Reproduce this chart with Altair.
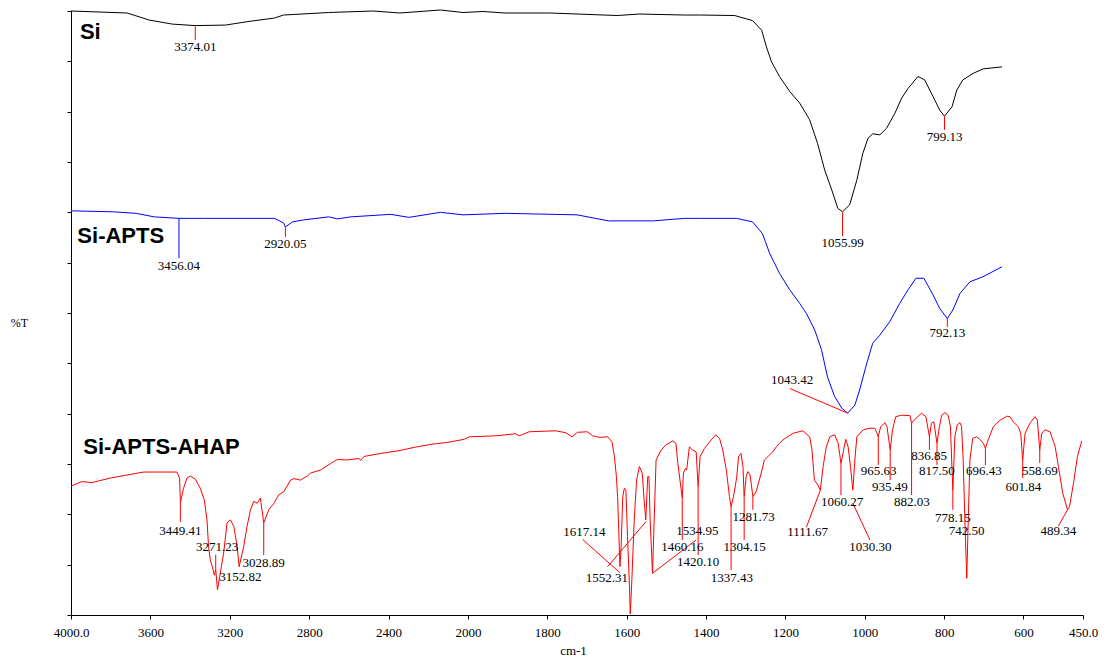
import altair as alt
import pandas as pd

# ---------------- spectra (wavenumber cm-1, %T in arbitrary offset units) ----------------
si_wn = [4000, 3717, 3606, 3490, 3374, 3222, 3109, 2975, 2929, 2702, 2477, 2344, 2139, 2025, 1962,
         1907, 1793, 1624, 1568, 1455, 1417, 1328, 1283, 1260, 1248, 1235, 1215, 1189, 1164, 1139,
         1119, 1101, 1083, 1068, 1056, 1038, 1020, 1005, 992, 980, 962, 945, 924, 907, 891,
         866, 849, 828, 811, 799, 780, 768, 753, 727, 702, 654]
si_t = [120.0, 119.6, 118.2, 117.4, 117.1, 117.2, 117.9, 118.6, 119.2, 119.7, 120.0, 119.6, 120.2, 119.7, 119.9,
        119.6, 119.6, 119.1, 119.4, 119.2, 119.2, 119.1, 118.1, 116.2, 112.9, 109.9, 107.0, 104.0, 101.7, 98.4,
        93.7, 88.4, 84.4, 80.8, 80.1, 81.5, 86.4, 91.7, 94.7, 95.6, 95.4, 96.7, 99.7, 102.7, 104.6,
        107.0, 106.3, 103.0, 100.3, 99.1, 101.0, 104.3, 106.3, 107.6, 108.5, 108.9]

apts_wn = [4000, 3785, 3672, 3581, 3456, 3333, 2975, 2929, 2920, 2884, 2828, 2702, 2657, 2591, 2389,
           2298, 2139, 2025, 1907, 1725, 1646, 1533, 1455, 1417, 1323, 1283, 1258, 1240, 1215, 1189,
           1164, 1147, 1126, 1109, 1094, 1076, 1058, 1043, 1025, 1013, 995, 980, 962, 937, 912,
           891, 871, 851, 828, 811, 792, 778, 760, 735, 702, 654]
apts_t = [80.3, 80.1, 79.8, 79.1, 78.8, 78.8, 78.8, 77.9, 77.1, 78.1, 78.5, 79.1, 78.7, 79.1, 79.6,
          79.0, 80.0, 79.5, 79.8, 79.5, 78.3, 78.3, 78.8, 78.8, 78.8, 78.1, 75.8, 71.9, 67.9, 64.6,
          61.9, 59.9, 56.6, 52.7, 47.3, 43.4, 41.1, 40.1, 41.7, 44.7, 50.0, 54.0, 55.6, 58.3, 61.9,
          64.6, 66.9, 66.9, 63.6, 60.9, 58.9, 60.6, 63.9, 66.2, 67.2, 69.2]

ahap_wn = [4000, 3946, 3895, 3803, 3719, 3635, 3551, 3466, 3453, 3449, 3433, 3416, 3399, 3374, 3349,
           3328, 3315, 3307, 3298, 3288, 3278, 3271, 3262, 3248, 3231, 3214, 3197, 3180, 3163, 3153,
           3130, 3113, 3096, 3079, 3062, 3046, 3029, 3004, 2978, 2953, 2928, 2894, 2877, 2844, 2810,
           2793, 2743, 2692, 2658, 2608, 2549, 2541, 2524, 2440, 2355, 2271, 2187, 2103, 2019, 1997,
           1930, 1880, 1871, 1846, 1779, 1753, 1738, 1724, 1699, 1686, 1669, 1648, 1637, 1631, 1626,
           1623, 1617, 1614, 1610, 1606, 1602, 1598, 1593, 1591, 1587, 1581, 1575, 1568, 1561, 1556,
           1552, 1547, 1544, 1541, 1535, 1526, 1513, 1501, 1484, 1476, 1471, 1460, 1457, 1452, 1449,
           1442, 1434, 1425, 1420, 1415, 1404, 1391, 1376, 1366, 1358, 1349, 1341, 1337, 1331, 1323,
           1318, 1312, 1307, 1304, 1299, 1295, 1289, 1282, 1274, 1261, 1253, 1240, 1232, 1223, 1215,
           1206, 1181, 1156, 1139, 1133, 1127, 1118, 1112, 1105, 1097, 1088, 1076, 1067, 1060, 1055,
           1048, 1042, 1036, 1030, 1025, 1020, 1004, 987, 975, 969, 966, 960, 949, 944, 936,
           930, 922, 907, 886, 882, 876, 857, 846, 837, 832, 826, 818, 812, 806, 798,
           790, 784, 781, 778, 773, 767, 760, 756, 752, 748, 743, 739, 735, 728, 718,
           710, 701, 696, 689, 676, 659, 642, 634, 626, 613, 607, 602, 596, 583, 571,
           565, 559, 554, 546, 533, 520, 512, 501, 489, 484, 474, 464, 453]
ahap_t = [25.6, 26.5, 26.3, 27.2, 27.8, 28.4, 28.4, 28.4, 27.2, 22.3, 25.2, 27.2, 27.6, 27.0, 25.2,
          22.8, 18.9, 13.6, 10.9, 9.6, 7.9, 9.0, 5.0, 8.3, 12.3, 18.3, 18.9, 17.6, 13.6, 9.6,
          13.6, 17.6, 20.9, 22.6, 22.2, 23.2, 18.3, 20.9, 22.2, 23.9, 24.5, 26.8, 27.1, 26.8, 27.6,
          28.2, 28.8, 30.1, 30.9, 30.8, 31.1, 30.7, 31.5, 32.1, 32.6, 33.3, 33.9, 34.3, 34.9, 35.4,
          35.6, 36.0, 35.6, 36.4, 36.6, 36.2, 35.4, 36.3, 36.4, 35.6, 35.3, 35.4, 34.4, 31.5, 27.5,
          23.5, 9.6, 13.6, 23.5, 25.2, 24.8, 15.6, 5.6, 0.2, 7.0, 18.9, 26.8, 29.5, 28.2, 22.8,
          18.9, 27.5, 27.5, 18.9, 8.3, 30.8, 32.8, 33.8, 34.6, 34.1, 30.1, 23.2, 28.2, 29.1, 28.8,
          33.4, 32.8, 32.4, 25.5, 31.5, 33.1, 34.4, 35.8, 35.1, 32.8, 28.8, 23.5, 21.5, 23.5, 27.2,
          31.5, 32.1, 29.5, 23.5, 27.5, 28.5, 27.8, 23.5, 24.5, 28.2, 30.8, 31.8, 32.4, 33.4, 34.1,
          34.8, 36.1, 36.6, 35.4, 32.8, 26.8, 25.8, 24.8, 29.5, 33.4, 35.4, 35.8, 34.1, 30.1, 32.1,
          34.9, 33.4, 29.5, 24.8, 30.8, 35.4, 36.8, 37.1, 37.1, 36.1, 35.4, 37.4, 38.2, 37.4, 32.8,
          36.8, 39.4, 39.7, 39.6, 38.1, 38.7, 40.1, 39.4, 35.4, 38.1, 38.4, 34.1, 37.4, 39.7, 40.2,
          39.7, 37.4, 30.8, 24.8, 35.4, 37.8, 38.2, 37.4, 30.8, 19.5, 7.3, 19.5, 30.8, 35.1, 35.4,
          34.9, 34.1, 33.1, 34.8, 37.4, 38.7, 39.5, 39.4, 38.4, 37.4, 36.1, 30.8, 36.1, 38.2, 39.4,
          38.7, 32.8, 36.1, 36.8, 36.4, 33.4, 29.5, 24.2, 20.9, 21.5, 26.2, 31.5, 34.6]

series_names = ["Si", "Si-APTS", "Si-APTS-AHAP"]
series_colors = ["#000000", "#0000FF", "#FF0000"]

# series name labels
name_wn = [3955, 3968, 3938]
name_t = [115.9, 75.2, 33.4]

# peak labels
lab_text = ["3374.01", "1055.99", "799.13", "3456.04", "2920.05", "792.13", "1043.42", "3449.41",
            "3271.23", "3152.82", "3028.89", "1617.14", "1552.31", "1534.95", "1460.16", "1420.10",
            "1337.43", "1304.15", "1281.73", "1111.67", "1060.27", "1030.30", "965.63", "935.49",
            "882.03", "836.85", "817.50", "778.15", "742.50", "696.43", "601.84", "558.69", "489.34"]
lab_wn = [3374, 1056, 799, 3456, 2920, 792, 1183, 3449, 3264, 3147, 3029, 1707, 1650, 1422, 1460, 1420,
          1335, 1303, 1280, 1144, 1057, 986, 965, 937, 881, 838, 818, 778, 743, 700, 600, 559, 512]
lab_t = [112.9, 73.9, 95.0, 69.4, 73.7, 56.0, 46.7, 16.7, 13.6, 7.6, 10.4, 16.4, 7.4, 16.6, 13.6, 10.5,
         7.4, 13.6, 19.4, 16.4, 22.5, 13.6, 28.6, 25.5, 22.5, 31.5, 28.6, 19.3, 16.6, 28.6, 25.5, 28.6, 16.6]

# leader lines from peak to label
ld_x1 = [3374, 1056, 799, 3456, 2920, 792, 1189, 3449, 3271, 3029, 1711, 1648, 1535, 1460, 1420, 1337,
         1304, 1282, 1147, 1060, 1030, 966, 936, 882, 837, 818, 778, 696, 602, 559, 489]
ld_t1 = [117.0, 80.1, 99.1, 78.8, 77.1, 59.0, 45.0, 22.3, 9.0, 18.3, 15.0, 9.6, 8.3, 23.2, 25.5, 21.5,
         23.5, 23.5, 17.5, 30.1, 22.2, 35.4, 32.8, 38.1, 35.4, 34.1, 24.8, 33.1, 30.8, 32.8, 20.9]
ld_x2 = [3374, 1056, 799, 3456, 2920, 792, 1043, 3449, 3271, 3029, 1617, 1552, 1425, 1460, 1420, 1337,
         1304, 1282, 1112, 1060, 987, 966, 936, 882, 837, 818, 778, 696, 602, 559, 512]
ld_t2 = [114.2, 75.3, 96.4, 70.9, 75.1, 57.2, 40.1, 18.5, 12.0, 11.9, 8.4, 18.5, 14.9, 14.9, 11.9, 8.9,
         14.9, 20.9, 24.8, 23.8, 14.9, 29.8, 26.8, 23.8, 32.8, 29.8, 20.9, 29.8, 27.2, 30.2, 17.7]
ld_color = ["#FF0000", "#FF0000", "#FF0000", "#0000FF"] + ["#FF0000"] * 27

tick_values = [4000, 3600, 3200, 2800, 2400, 2000, 1800, 1600, 1400, 1200, 1000, 800, 600, 450]

# ---------------- tables ----------------
rows = []
for name, wns, ts in zip(series_names, [si_wn, apts_wn, ahap_wn], [si_t, apts_t, ahap_t]):
    for i, (w, t) in enumerate(zip(wns, ts)):
        rows.append({"series": name, "wn": w, "t": t, "i": i})
lines_df = pd.DataFrame(rows)
names_df = pd.DataFrame({"name": series_names, "wn": name_wn, "t": name_t})
labels_df = pd.DataFrame({"txt": lab_text, "wn": lab_wn, "t": lab_t})
leaders_df = pd.DataFrame({"wn": ld_x1, "t": ld_t1, "x2": ld_x2, "y2": ld_t2, "c": ld_color})

W, H = 1012, 604
xs = alt.Scale(domain=[4000, 2000, 450], range=[0, 397, W], nice=False, zero=False)
ys = alt.Scale(domain=[0, 120], nice=False, zero=False)

SERIF = "Liberation Serif"

x_axis = alt.Axis(values=tick_values,
                  labelExpr="datum.value == 4000 || datum.value == 450 ? format(datum.value, '.1f') : format(datum.value, 'd')",
                  title="cm-1", grid=False, tickSize=4, labelPadding=7, labelFont=SERIF, labelFontSize=13,
                  labelColor="black", domainColor="black", tickColor="black", labelOverlap=False,
                  labelFlush=False, titleFont=SERIF, titleFontSize=13, titleFontWeight="normal",
                  titleColor="black", titleX=502, titleY=35, titleBaseline="middle", titleAlign="center")
y_axis = alt.Axis(values=list(range(0, 121, 10)), labels=False, grid=False, tickSize=4,
                  domainColor="black", tickColor="black", title="%T", titleAngle=0, titleX=-52,
                  titleY=311, titleAlign="center", titleBaseline="middle", titleFont=SERIF,
                  titleFontSize=12, titleFontWeight="normal", titleColor="black")

X = alt.X("wn:Q", scale=xs, axis=x_axis)
Y = alt.Y("t:Q", scale=ys, axis=y_axis)

lines = alt.Chart(lines_df).mark_line(strokeWidth=1, interpolate="linear").encode(
    x=X, y=Y,
    color=alt.Color("series:N", scale=alt.Scale(domain=series_names, range=series_colors), legend=None),
    order="i:Q",
    detail="series:N",
)

leaders = alt.Chart(leaders_df).mark_rule(strokeWidth=1).encode(
    x=X, y=Y,
    x2="x2:Q",
    y2="y2:Q",
    color=alt.Color("c:N", scale=None),
)

labels = alt.Chart(labels_df).mark_text(font=SERIF, fontSize=13, color="black",
                                         align="center", baseline="middle").encode(
    x=X, y=Y, text="txt:N",
)

names = alt.Chart(names_df).mark_text(font="Liberation Sans", fontSize=22, fontWeight="bold",
                                       color="black", align="left", baseline="middle").encode(
    x=X, y=Y, text="name:N",
)

chart = alt.layer(lines, leaders, labels, names).properties(
    width=W, height=H,
    autosize=alt.AutoSizeParams(type="none"),
    padding={"left": 71, "top": 11, "right": 23, "bottom": 44},
    background="white",
).configure_view(stroke=None)

chart.save("out.html", embed_options={"renderer": "svg", "actions": False})
